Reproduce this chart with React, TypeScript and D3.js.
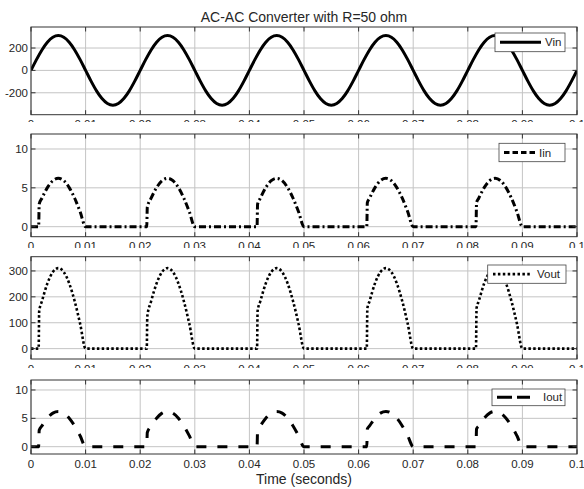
import React from 'react';
import * as d3 from 'd3';

const title = 'AC-AC Converter with R=50 ohm';
const xLabel = 'Time (seconds)';
const xTicks = [0, 0.01, 0.02, 0.03, 0.04, 0.05, 0.06, 0.07, 0.08, 0.09, 0.1];
const xTickLabels = ['0', '0.01', '0.02', '0.03', '0.04', '0.05', '0.06', '0.07', '0.08', '0.09', '0.1'];

// Vin sampled every 1 ms
const vinTime = d3.range(101).map((i) => i / 1000);
const vinValues = [
  0, 96, 183, 252, 296, 311, 296, 252, 183, 96, 0, -96, -183, -252, -296, -311, -296, -252, -183, -96,
  0, 96, 183, 252, 296, 311, 296, 252, 183, 96, 0, -96, -183, -252, -296, -311, -296, -252, -183, -96,
  0, 96, 183, 252, 296, 311, 296, 252, 183, 96, 0, -96, -183, -252, -296, -311, -296, -252, -183, -96,
  0, 96, 183, 252, 296, 311, 296, 252, 183, 96, 0, -96, -183, -252, -296, -311, -296, -252, -183, -96,
  0, 96, 183, 252, 296, 311, 296, 252, 183, 96, 0, -96, -183, -252, -296, -311, -296, -252, -183, -96,
  0,
];

// Thyristor-controlled pulses (Iin, Vout, Iout)
const pulseTime = [
  0,
  0.0014, 0.0015, 0.002, 0.003, 0.004, 0.005, 0.006, 0.007, 0.008, 0.009, 0.010,
  0.0212, 0.0213, 0.022, 0.023, 0.024, 0.025, 0.026, 0.027, 0.028, 0.029, 0.030,
  0.0414, 0.0415, 0.042, 0.043, 0.044, 0.045, 0.046, 0.047, 0.048, 0.049, 0.050,
  0.0615, 0.0616, 0.062, 0.063, 0.064, 0.065, 0.066, 0.067, 0.068, 0.069, 0.070,
  0.0815, 0.0816, 0.082, 0.083, 0.084, 0.085, 0.086, 0.087, 0.088, 0.089, 0.090,
  0.1,
];
const iinValues = [
  0,
  0, 2.9, 3.66, 5.03, 5.92, 6.22, 5.92, 5.03, 3.66, 1.92, 0,
  0, 2.5, 3.66, 5.03, 5.92, 6.22, 5.92, 5.03, 3.66, 1.92, 0,
  0, 2.9, 3.66, 5.03, 5.92, 6.22, 5.92, 5.03, 3.66, 1.92, 0,
  0, 3.1, 3.66, 5.03, 5.92, 6.22, 5.92, 5.03, 3.66, 1.92, 0,
  0, 3.1, 3.66, 5.03, 5.92, 6.22, 5.92, 5.03, 3.66, 1.92, 0,
  0,
];
const voutValues = [
  0,
  0, 145, 183, 252, 296, 311, 296, 252, 183, 96, 0,
  0, 125, 183, 252, 296, 311, 296, 252, 183, 96, 0,
  0, 145, 183, 252, 296, 311, 296, 252, 183, 96, 0,
  0, 155, 183, 252, 296, 311, 296, 252, 183, 96, 0,
  0, 155, 183, 252, 296, 311, 296, 252, 183, 96, 0,
  0,
];
const ioutValues = [
  0,
  0, 2.9, 3.66, 5.03, 5.92, 6.22, 5.92, 5.03, 3.66, 1.92, 0,
  0, 2.5, 3.66, 5.03, 5.92, 6.22, 5.92, 5.03, 3.66, 1.92, 0,
  0, 2.9, 3.66, 5.03, 5.92, 6.22, 5.92, 5.03, 3.66, 1.92, 0,
  0, 3.1, 3.66, 5.03, 5.92, 6.22, 5.92, 5.03, 3.66, 1.92, 0,
  0, 3.1, 3.66, 5.03, 5.92, 6.22, 5.92, 5.03, 3.66, 1.92, 0,
  0,
];

const vinTicks = [-200, 0, 200];
const iinTicks = [0, 5, 10];
const voutTicks = [0, 100, 200, 300];
const ioutTicks = [0, 5, 10];
const legendNames = ['Vin', 'Iin', 'Vout', 'Iout'];

const W = 584;
const H = 489;
const LEFT = 31;
const RIGHT = 577;
const FONT = '"Liberation Sans", Arial, Helvetica, sans-serif';
const TEXT = '#262626';
const BOX = '#333333';
const GRID = '#c4c4c4';

const panels = [
  {
    name: legendNames[0], time: vinTime, values: vinValues, ticks: vinTicks,
    top: 27, bottom: 114.7, domain: [-396, 388], labelClip: 122,
    dash: 'none', width: 3, legendDash: 'none',
    legend: { x0: 495, x1: 565, y0: 33, y1: 51.7, l0: 500, l1: 541, tx: 545 },
  },
  {
    name: legendNames[1], time: pulseTime, values: iinValues, ticks: iinTicks,
    top: 134, bottom: 236.7, domain: [-1.29, 11.93], labelClip: 248,
    dash: '7,3,2,3', width: 3, legendDash: '5.5,3',
    legend: { x0: 499, x1: 565, y0: 143.3, y1: 161.7, l0: 504, l1: 535, tx: 539 },
  },
  {
    name: legendNames[2], time: pulseTime, values: voutValues, ticks: voutTicks,
    top: 256.7, bottom: 359, domain: [-40, 355], labelClip: 368,
    dash: '2.5,2.3', width: 2.6, legendDash: '2.5,2.4',
    legend: { x0: 487.7, x1: 566, y0: 265, y1: 283.3, l0: 493, l1: 532, tx: 537 },
  },
  {
    name: legendNames[3], time: pulseTime, values: ioutValues, ticks: ioutTicks,
    top: 380, bottom: 454, domain: [-1.29, 11.76], labelClip: 489,
    dash: '10,11', width: 3, legendDash: '15,5',
    legend: { x0: 492, x1: 565, y0: 389, y1: 405.7, l0: 497, l1: 530, tx: 543 },
  },
];

const x = d3.scaleLinear().domain([0, 0.1]).range([LEFT, RIGHT]);

function Panel({ p, idx }: { p: any; idx: number }) {
  const y = d3.scaleLinear().domain(p.domain).range([p.bottom, p.top]);
  const pts: [number, number][] = p.time.map((t: number, i: number) => [t, p.values[i]]);
  const line = d3
    .line<[number, number]>()
    .x((d) => x(d[0]))
    .y((d) => y(d[1]))
    .curve(d3.curveMonotoneX);
  const clipId = `plot-clip-${idx}`;
  const labClipId = `lab-clip-${idx}`;
  const tickLen = 4.5;
  const lg = p.legend;
  const lyc = (lg.y0 + lg.y1) / 2;
  return (
    <g>
      <defs>
        <clipPath id={clipId}>
          <rect x={LEFT} y={p.top} width={RIGHT - LEFT} height={p.bottom - p.top} />
        </clipPath>
        <clipPath id={labClipId}>
          <rect x={0} y={p.bottom} width={W} height={p.labelClip - p.bottom} />
        </clipPath>
      </defs>
      <rect x={LEFT} y={p.top} width={RIGHT - LEFT} height={p.bottom - p.top} fill="#fff" />
      {xTicks.map((t) => (
        <line key={`gx${t}`} x1={x(t)} x2={x(t)} y1={p.top} y2={p.bottom} stroke={GRID} strokeWidth={1} />
      ))}
      {p.ticks.map((t: number) => (
        <line key={`gy${t}`} x1={LEFT} x2={RIGHT} y1={y(t)} y2={y(t)} stroke={GRID} strokeWidth={1} />
      ))}
      <path
        d={line(pts) || ''}
        fill="none"
        stroke="#000"
        strokeWidth={p.width}
        strokeDasharray={p.dash}
        strokeLinejoin="round"
        clipPath={`url(#${clipId})`}
      />
      <rect x={LEFT} y={p.top} width={RIGHT - LEFT} height={p.bottom - p.top} fill="none" stroke={BOX} strokeWidth={1} />
      {xTicks.map((t) => (
        <g key={`tx${t}`}>
          <line x1={x(t)} x2={x(t)} y1={p.bottom} y2={p.bottom - tickLen} stroke={BOX} />
          <line x1={x(t)} x2={x(t)} y1={p.top} y2={p.top + tickLen} stroke={BOX} />
        </g>
      ))}
      {p.ticks.map((t: number) => (
        <g key={`ty${t}`}>
          <line x1={LEFT} x2={LEFT + tickLen} y1={y(t)} y2={y(t)} stroke={BOX} />
          <line x1={RIGHT} x2={RIGHT - tickLen} y1={y(t)} y2={y(t)} stroke={BOX} />
          <text x={LEFT - 3} y={y(t)} dy="0.35em" textAnchor="end" fontSize={11.5} fill={TEXT} fontFamily={FONT}>
            {t}
          </text>
        </g>
      ))}
      <g clipPath={`url(#${labClipId})`}>
        {xTicks.map((t, i) => (
          <text key={`xl${t}`} x={x(t)} y={p.bottom + 13.5} textAnchor="middle" fontSize={11.5} fill={TEXT} fontFamily={FONT}>
            {xTickLabels[i]}
          </text>
        ))}
      </g>
      <rect x={lg.x0} y={lg.y0} width={lg.x1 - lg.x0} height={lg.y1 - lg.y0} fill="#fff" stroke="#444" strokeWidth={0.8} />
      <line x1={lg.l0} x2={lg.l1} y1={lyc} y2={lyc} stroke="#000" strokeWidth={p.width} strokeDasharray={p.legendDash} />
      <text x={lg.tx} y={lyc} dy="0.36em" fontSize={11.5} fill={TEXT} fontFamily={FONT}>
        {p.name}
      </text>
    </g>
  );
}

export default function App() {
  return (
    <svg
      width={W}
      height={H}
      viewBox={`0 0 ${W} ${H}`}
      style={{ position: 'absolute', left: 0, top: 0, background: '#fff' }}
    >
      <rect x={0} y={0} width={W} height={H} fill="#fff" />
      <text x={(LEFT + RIGHT) / 2} y={21.5} textAnchor="middle" fontSize={14} fill={TEXT} fontFamily={FONT}>
        {title}
      </text>
      {panels.map((p, i) => (
        <Panel key={i} p={p} idx={i} />
      ))}
      <text x={(LEFT + RIGHT) / 2} y={484} textAnchor="middle" fontSize={14} fill={TEXT} fontFamily={FONT}>
        {xLabel}
      </text>
    </svg>
  );
}
